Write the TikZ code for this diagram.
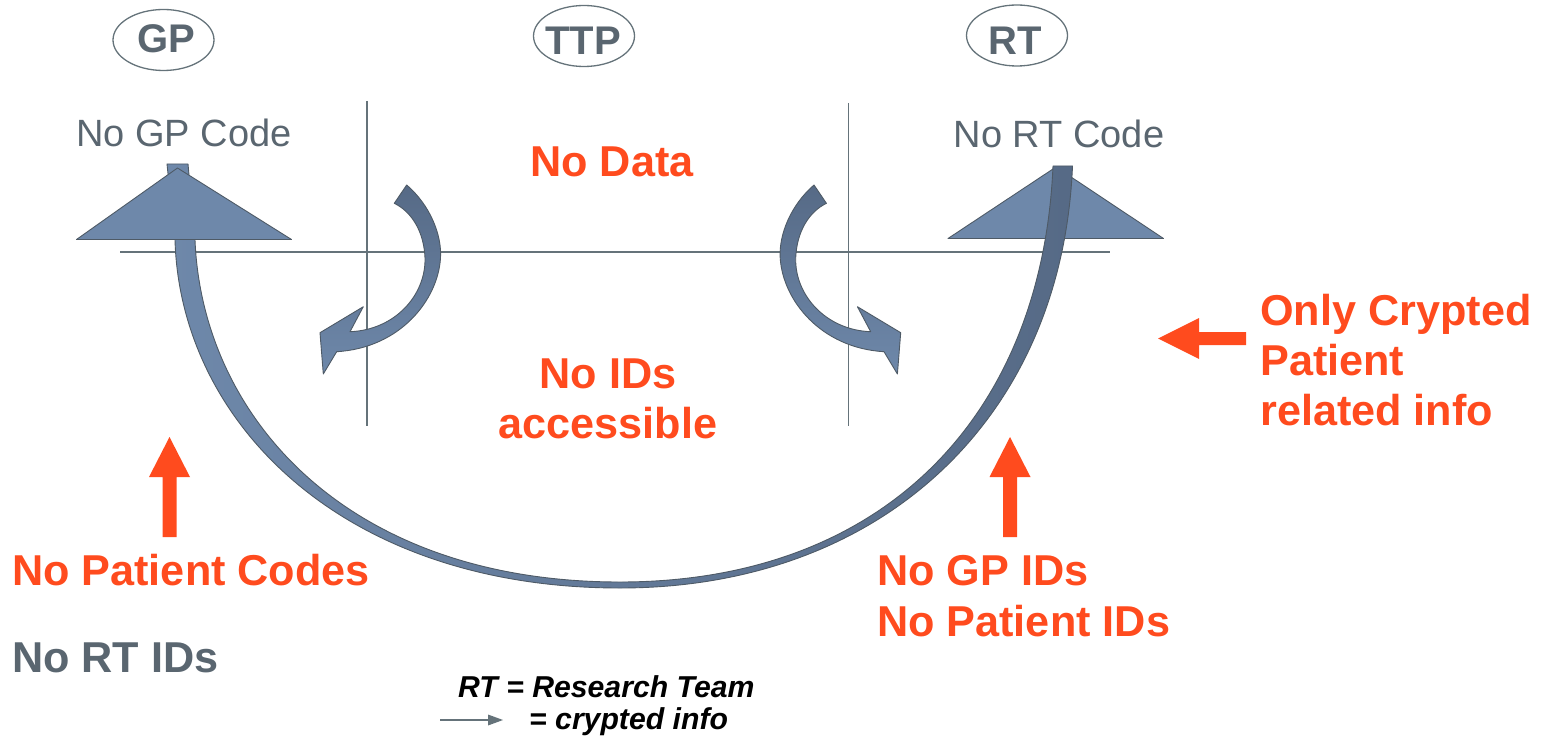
\documentclass[tikz,border=0pt]{standalone}
\usepackage{fontspec}
\setmainfont{Liberation Sans}
\definecolor{txtgray}{HTML}{5A6670}
\definecolor{linegray}{HTML}{65737A}
\definecolor{orng}{HTML}{FF4B1E}
\definecolor{bandlight}{HTML}{6E88AA}
\definecolor{banddark}{HTML}{566A86}
\definecolor{edge}{HTML}{4E5A66}
\tikzset{
  grid line/.style={draw=linegray, line width=1.8pt},
  role/.style={draw=linegray, line width=1.3pt, ellipse, minimum width=101pt, minimum height=61pt, inner sep=0pt},
  rolelabel/.style={text=txtgray, font=\fontsize{40}{46}\selectfont\bfseries, inner sep=0pt, anchor=base},
  codelabel/.style={text=txtgray, font=\fontsize{38}{44}\selectfont, inner sep=0pt, anchor=base},
  warn/.style={text=orng, font=\fontsize{43.2}{50}\selectfont\bfseries, inner sep=0pt},
  graywarn/.style={text=txtgray, font=\fontsize{43.2}{50}\selectfont\bfseries, inner sep=0pt},
  legend/.style={text=black, font=\fontsize{30.2}{32}\selectfont\bfseries\itshape, inner sep=0pt, anchor=base west},
  shape edge/.style={draw=edge, line width=0.9pt, line join=round},
  orange arrow/.style={fill=orng},
}
\usetikzlibrary{shapes.geometric}
\newcommand{\uturnpath}{%
    \path[shape edge, top color=banddark, bottom color=bandlight]
      (406.7,185) .. controls (430,205) and (442,235) .. (440.5,258)
      .. controls (438,300) and (400,348) .. (336.7,351.7)
      -- (323.3,374) -- (320,332.7) -- (363.3,306.7) -- (350,331.7)
      .. controls (395,330) and (426,295) .. (425,258)
      .. controls (424,232) and (412,212) .. (394.3,203.3)
      -- cycle;}
\begin{document}
\begin{tikzpicture}[x=1pt, y=-1pt]
\useasboundingbox (0,0) rectangle (1541,738);

% grid lines
\draw[grid line] (120,252) -- (1110,252);
\draw[grid line] (367,101) -- (367,426);
\draw[grid line] (848.5,103) -- (848.5,426);

% role ellipses
\node[role] (gp) at (163.5,40) {};
\node[rolelabel] (gpt) at (166,53) {GP};
\node[role] (ttp) at (584,36) {};
\node[rolelabel] (ttpt) at (583,55) {TTP};
\node[role] (rt) at (1017,35.5) {};
\node[rolelabel] (rtt) at (1015,55) {RT};

% code labels
\node[codelabel] (gpcode) at (184,147) {No GP Code};
\node[codelabel] (rtcode) at (1059,148) {No RT Code};

% RT triangle (under the band)
\filldraw[shape edge, fill=bandlight] (948,238.5) -- (1056,167) -- (1163.5,238.5) -- cycle;

% big curved band
\path[shape edge, left color=bandlight, right color=banddark]
  (167,164) -- (175,240)
  .. controls (180,420) and (340,588) .. (620,588)
  .. controls (880,588) and (1062,420) .. (1072.5,166)
  -- (1053,166)
  .. controls (1042,420) and (880,582) .. (620,582)
  .. controls (345,582) and (202,415) .. (195,240)
  -- (188,164) -- cycle;

% GP triangle (arrow head, over the band)
\filldraw[shape edge, fill=bandlight] (76.5,239.5) -- (177.5,168) -- (291.5,239.5) -- cycle;

% U-turn arrows
\uturnpath
\begin{scope}[xshift=1220.7pt, xscale=-1]
\uturnpath
\end{scope}

% orange arrows
\fill[orange arrow] (169.5,437) -- (190,477) -- (176.5,477) -- (176.5,537) -- (162.5,537) -- (162.5,477) -- (149,477) -- cycle;
\fill[orange arrow] (1010,437) -- (1030.5,477) -- (1017,477) -- (1017,537) -- (1003,537) -- (1003,477) -- (989.5,477) -- cycle;
\fill[orange arrow] (1158,338.5) -- (1199,318) -- (1199,332) -- (1246,332) -- (1246,345) -- (1199,345) -- (1199,359) -- cycle;

% center texts
\node[warn, anchor=base] (nodata) at (612,177) {No Data};
\node[warn, anchor=base] (noids) at (608,388) {No IDs};
\node[warn, anchor=base] (access) at (608,438) {accessible};

% left texts
\node[warn, anchor=base west] (nopc) at (12,585) {No Patient Codes};
\node[graywarn, anchor=base west] (nortids) at (12,672) {No RT IDs};

% right texts
\node[warn, anchor=base west] (nogpids) at (877,585) {No GP IDs};
\node[warn, anchor=base west] (nopids) at (877,636) {No Patient IDs};
\node[warn, anchor=base west] (only) at (1260,325) {Only Crypted};
\node[warn, anchor=base west] (patient) at (1260,375) {Patient};
\node[warn, anchor=base west] (related) at (1260,425) {related info};

% legend
\node[legend] (leg1) at (458,697) {RT = Research Team};
\node[legend] (leg2) at (529,729) {= crypted info};
\coordinate (la) at (440,720);
\coordinate (lb) at (503,720);
\draw[draw=linegray, line width=1.8pt] (la) -- (490,720);
\fill[linegray] (lb) -- (488,714.5) -- (488,725.5) -- cycle;
\end{tikzpicture}
\end{document}
